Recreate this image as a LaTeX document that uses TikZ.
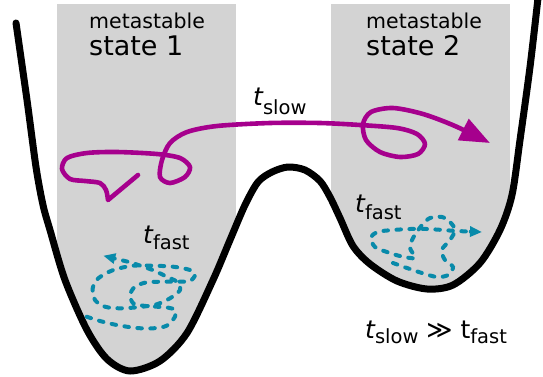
\documentclass[tikz,border=0pt]{standalone}
\usepackage{fontspec}
\setmainfont{DejaVu Sans}
\usetikzlibrary{arrows.meta}
\definecolor{wellgrey}{RGB}{211,211,211}
\definecolor{slowmag}{RGB}{166,0,141}
\definecolor{fastcyan}{RGB}{8,138,170}
\newcommand{\mysub}[2][6pt]{\raisebox{-#1}{\fontsize{19.5}{20}\selectfont #2}}
\newcommand{\mainsz}{\fontsize{25}{26}\selectfont}
\tikzset{
  potential/.style={line width=7pt, line join=round, line cap=round},
  slowpath/.style={draw=slowmag, line width=4.6pt, line join=round, line cap=round,
    -{Triangle[length=30pt,width=23pt]}},
  fastpath/.style={draw=fastcyan, line width=4pt, line cap=round,
    dash pattern=on 4.5pt off 8.5pt, -{Triangle[length=12pt,width=10pt]}},
  lab/.style={anchor=base west, inner sep=0pt, text=black},
  smalllab/.style={lab, font=\fontsize{20.5}{21}\selectfont},
  biglab/.style={lab, font=\fontsize{27}{28}\selectfont},
}
\begin{document}
\begin{tikzpicture}[x=1pt,y=-1pt]
\useasboundingbox (0,0) rectangle (543,376);
% grey metastable regions, clipped to the area above the potential
\begin{scope}
\clip plot[smooth] coordinates {(16,23) (27,100) (36,167) (43,205) (50,230) (65,280) (87,330) (107,359) (130,371) (160,361) (187,333) (213,280) (230,240) (245,205) (258,182) (272,172) (288,167) (305,170) (320,181) (330,197) (340,218) (353,246) (370,264) (397,281) (427,289) (453,285) (480,263) (500,230) (512,195) (520,140) (530,67) (538,-2)} -- (543,-10) -- (0,-10) -- (0,23) -- cycle;
\fill[wellgrey] (57,4) rectangle (236,376);
\fill[wellgrey] (331,4) rectangle (510,376);
\end{scope}
% potential curve
\draw[potential] plot[smooth] coordinates {(16,23) (27,100) (36,167) (43,205) (50,230) (65,280) (87,330) (107,359) (130,371) (160,361) (187,333) (213,280) (230,240) (245,205) (258,182) (272,172) (288,167) (305,170) (320,181) (330,197) (340,218) (353,246) (370,264) (397,281) (427,289) (453,285) (480,263) (500,230) (512,195) (520,140) (530,67) (538,-2)};
% labels
\node[smalllab] (m1) at (89,28) {metastable};
\node[biglab] (s1) at (89,55) {state 1};
\node[smalllab] (m2) at (366,28) {metastable};
\node[biglab] (s2) at (366,55) {state 2};
\node[lab] (tslow) at (253,105) {\mainsz\itshape t\upshape\mysub[9pt]{slow}};
\node[lab] (tfast1) at (143,243) {\mainsz\itshape t\upshape\mysub[6.5pt]{fast}};
\node[lab] (tfast2) at (355,212) {\mainsz\itshape t\upshape\mysub[7pt]{fast}};
\node[lab] (rel) at (365,338) {\mainsz\itshape t\upshape\mysub[5pt]{slow} ≫ t\mysub[5pt]{fast}};
% slow trajectory
\coordinate (sstart) at (138,175);
\coordinate (scusp) at (108,200);
\coordinate (send) at (490,143);
\draw[slowpath] (sstart) -- (scusp) -- plot[smooth] coordinates {(108,200) (106,190) (100,183) (85,181) (70,179) (62,169) (67,158) (87,153) (117,152) (157,154) (180,158) (190,167) (185,177) (170,183) (160,177) (162,160) (170,143) (187,132) (217,126) (270,123) (320,123) (360,125) (397,128) (417,134) (425,144) (418,154) (400,157) (380,152) (366,140) (363,124) (371,112) (393,108) (423,114) (455,126) (490,143)};
% fast trajectory, state 1
\draw[fastpath] plot[smooth] coordinates {(86.7,316.7) (100,321) (116.7,325) (136.7,328) (153.3,328.3) (166.7,325.7) (175,316.7) (175,310) (168.3,307.7) (156.7,306.7) (143.3,305.7) (133.3,303.3) (130,295) (135,286.7) (146.7,282.3) (163.3,281.7) (180,281.7) (190,281) (195,275) (190,270) (173.3,266.7) (153.3,265.7) (133.3,265.7) (113.3,270) (98.3,278.3) (92.7,288.3) (95,300) (105,306.7) (120,308.3) (140,307) (156.7,304.3) (170,298.3) (180,290) (176.7,281.7) (166.7,276.7) (155,271) (143.3,266.7) (130,262.3) (116.7,259) (103.3,255.7)};
% fast trajectory, state 2
\draw[fastpath] plot[smooth] coordinates {(393,263) (407,268) (422,273) (437,277) (448,275) (453,267) (445,260) (441.7,250) (450,240) (455,230) (450,222) (442,217) (430,218) (422,225) (413,238) (410,248) (415,258) (400,256) (387,252) (375,247) (371,238) (377,232) (393,230) (410,229) (427,229) (443,230) (457,231) (482,232)};
\end{tikzpicture}
\end{document}
